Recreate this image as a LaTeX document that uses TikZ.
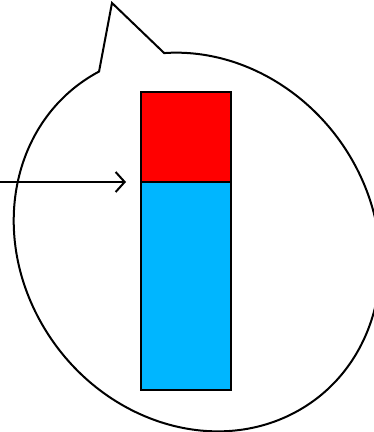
\documentclass[tikz,border=0pt]{standalone}
\usepackage{xcolor}
\usepackage{tikz}
\usetikzlibrary{positioning, arrows.meta}
\definecolor{barred}{HTML}{FF0000}
\definecolor{barblue}{HTML}{00B6FF}

\begin{document}
\begin{tikzpicture}[x=1pt, y=1pt]
    % Styles
    \tikzstyle{bubble} = [draw=black, fill=white, line width=2pt, line join=miter]
    \tikzstyle{cell} = [rectangle, draw=black, line width=2pt, inner sep=0pt, outer sep=0pt, minimum width=90pt]
    \tikzstyle{pointer} = [draw, -{Straight Barb[length=9pt, width=20pt, line width=2pt]}, line width=2pt, black]

    \useasboundingbox (0,0) rectangle (374,432);

    % Callout
    \coordinate (centre) at (197,190);
    \coordinate (tip) at (112,429);
    \begin{scope}[shift={(centre)}, rotate=-53]
        \path [bubble] (172:197 and 175) arc [start angle=172, end angle=510, x radius=197, y radius=175] -- (tip) -- cycle;
    \end{scope}

    % Nodes
    \node [cell, fill=barred, minimum height=90pt, anchor=north west] (upper) at (141,340) {};
    \node [cell, fill=barblue, minimum height=208pt, below=0pt of upper] (lower) {};
    \coordinate (source) at (0,250);

    % Paths
    \path [pointer] (source) -- ([xshift=-15pt]lower.north west);
\end{tikzpicture}
\end{document}
